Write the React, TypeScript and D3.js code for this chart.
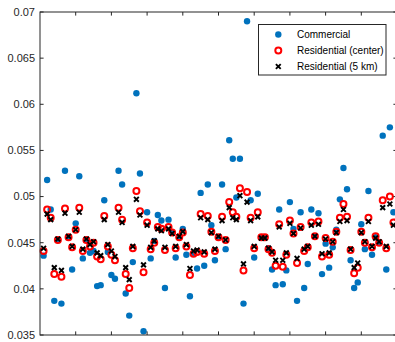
import React from "react";
import * as d3 from "d3";

const commercial = [
  0.0436, 0.0518, 0.0486, 0.0387, 0.0453, 0.0384, 0.0528, 0.0456, 0.0421, 0.0471,
  0.0522, 0.0433, 0.0453, 0.0439, 0.0441, 0.0403, 0.0404, 0.0496, 0.0440, 0.0415,
  0.0411, 0.0528, 0.0513, 0.0395, 0.0371, 0.0429, 0.0612, 0.0525, 0.0354, 0.0483,
  0.0433, 0.0452, 0.0480, 0.0474, 0.0401, 0.0475, 0.0461, 0.0434, 0.0456, 0.0465,
  0.0437, 0.0392, 0.0438, 0.0422, 0.0504, 0.0425, 0.0513, 0.0469, 0.0431, 0.0456,
  0.0513, 0.0443, 0.0561, 0.0541, 0.0499, 0.0541, 0.0384, 0.0690, 0.0496, 0.0434,
  0.0503, 0.0456, 0.0456, 0.0444, 0.0421, 0.0404, 0.0486, 0.0405, 0.0420, 0.0494,
  0.0465, 0.0387, 0.0483, 0.0401, 0.0427, 0.0486, 0.0457, 0.0482, 0.0416, 0.0449,
  0.0423, 0.0445, 0.0464, 0.0497, 0.0531, 0.0508, 0.0431, 0.0401, 0.0407, 0.0470,
  0.0443, 0.0506, 0.0437, 0.0456, 0.0450, 0.0566, 0.0421, 0.0575, 0.0483,
];

const residentialCenter = [
  0.0441, 0.0486, 0.0477, 0.0416, 0.0453, 0.0413, 0.0487, 0.0456, 0.0445, 0.0464,
  0.0488, 0.0441, 0.0453, 0.0446, 0.0450, 0.0435, 0.0432, 0.0479, 0.0446, 0.0437,
  0.0431, 0.0488, 0.0475, 0.0416, 0.0401, 0.0444, 0.0506, 0.0484, 0.0418, 0.0472,
  0.0443, 0.0450, 0.0467, 0.0465, 0.0442, 0.0467, 0.0461, 0.0444, 0.0456, 0.0461,
  0.0446, 0.0415, 0.0438, 0.0440, 0.0481, 0.0438, 0.0479, 0.0462, 0.0441, 0.0456,
  0.0478, 0.0453, 0.0494, 0.0483, 0.0478, 0.0509, 0.0420, 0.0505, 0.0477, 0.0444,
  0.0483, 0.0456, 0.0456, 0.0443, 0.0439, 0.0425, 0.0470, 0.0424, 0.0437, 0.0474,
  0.0460, 0.0428, 0.0467, 0.0441, 0.0445, 0.0472, 0.0457, 0.0473, 0.0435, 0.0455,
  0.0437, 0.0451, 0.0462, 0.0477, 0.0492, 0.0478, 0.0442, 0.0417, 0.0423, 0.0462,
  0.0450, 0.0477, 0.0445, 0.0457, 0.0450, 0.0496, 0.0444, 0.0500, 0.0472,
];

const residential5km = [
  0.0444, 0.0481, 0.0475, 0.0423, 0.0454, 0.0420, 0.0482, 0.0457, 0.0446, 0.0464,
  0.0483, 0.0443, 0.0454, 0.0448, 0.0451, 0.0439, 0.0436, 0.0475, 0.0448, 0.0441,
  0.0435, 0.0483, 0.0472, 0.0423, 0.0410, 0.0446, 0.0497, 0.0480, 0.0426, 0.0469,
  0.0445, 0.0452, 0.0465, 0.0463, 0.0445, 0.0465, 0.0460, 0.0446, 0.0457, 0.0462,
  0.0448, 0.0422, 0.0441, 0.0442, 0.0477, 0.0440, 0.0475, 0.0461, 0.0443, 0.0457,
  0.0474, 0.0453, 0.0488, 0.0477, 0.0475, 0.0501, 0.0427, 0.0494, 0.0474, 0.0446,
  0.0478, 0.0455, 0.0455, 0.0444, 0.0440, 0.0431, 0.0467, 0.0431, 0.0439, 0.0471,
  0.0460, 0.0433, 0.0466, 0.0443, 0.0446, 0.0469, 0.0457, 0.0470, 0.0438, 0.0454,
  0.0439, 0.0451, 0.0461, 0.0473, 0.0486, 0.0474, 0.0443, 0.0423, 0.0428, 0.0461,
  0.0451, 0.0473, 0.0446, 0.0455, 0.0451, 0.0488, 0.0446, 0.0492, 0.0469,
];

const yTicks = [0.035, 0.04, 0.045, 0.05, 0.055, 0.06, 0.065, 0.07];
const yTickLabels = ["0.035", "0.04", "0.045", "0.05", "0.055", "0.06", "0.065", "0.07"];
const xTicks = [10, 20, 30, 40, 50, 60, 70, 80, 90];
const legendLabels = ["Commercial", "Residential (center)", "Residential (5 km)"];

const W = 395;
const H = 342;
const left = 40;
const right = 397;
const top = 12;
const bottom = 335;
const axisColor = "#262626";
const blue = "#0072BD";
const red = "#FF0000";
const font = "'Liberation Sans', Arial, Helvetica, sans-serif";

export default function App() {
  const x = d3.scaleLinear().domain([0, 100]).range([left, right]);
  const y = d3.scaleLinear().domain([0.035, 0.07]).range([bottom, top]);
  const idx = (i: number) => i + 1;
  const tl = 3.6;
  const xs = 2.4;
  const rr = 3.0;
  const rw = 2.0;
  const br = 3.2;
  const kw = 1.9;

  return (
    <svg
      width={W}
      height={H}
      style={{ position: "absolute", left: 0, top: 0, background: "#fff" }}
      viewBox={`0 0 ${W} ${H}`}
    >
      <rect x={0} y={0} width={W} height={H} fill="#fff" />
      <g>
        {commercial.map((v, i) => (
          <circle key={"c" + i} cx={x(idx(i))} cy={y(v)} r={br} fill={blue} />
        ))}
      </g>
      <g>
        {residentialCenter.map((v, i) => (
          <circle
            key={"r" + i}
            cx={x(idx(i))}
            cy={y(v)}
            r={rr}
            fill="none"
            stroke={red}
            strokeWidth={rw}
          />
        ))}
      </g>
      <g stroke="#000" strokeWidth={kw}>
        {residential5km.map((v, i) => {
          const cx = x(idx(i));
          const cy = y(v);
          return (
            <path
              key={"k" + i}
              d={`M${cx - xs},${cy - xs}L${cx + xs},${cy + xs}M${cx - xs},${cy + xs}L${cx + xs},${cy - xs}`}
            />
          );
        })}
      </g>
      <g stroke={axisColor} strokeWidth={1} fill="none">
        <rect x={left} y={top} width={right - left} height={bottom - top} />
        {xTicks.map((t) => (
          <g key={"xt" + t}>
            <line x1={x(t)} x2={x(t)} y1={bottom} y2={bottom - tl} />
            <line x1={x(t)} x2={x(t)} y1={top} y2={top + tl} />
          </g>
        ))}
        {yTicks.map((t) => (
          <g key={"yt" + t}>
            <line x1={left} x2={left + tl} y1={y(t)} y2={y(t)} />
            <line x1={right} x2={right - tl} y1={y(t)} y2={y(t)} />
          </g>
        ))}
      </g>
      <g fontFamily={font} fontSize={11} fill={axisColor} textAnchor="end">
        {yTicks.map((t, i) => (
          <text key={"yl" + t} x={left - 5} y={y(t)} dy="0.35em">
            {yTickLabels[i]}
          </text>
        ))}
      </g>
      <g>
        <rect x={258.5} y={24.5} width={127.5} height={50.5} fill="#fff" stroke={axisColor} strokeWidth={1} />
        <circle cx={278.3} cy={34.5} r={br} fill={blue} />
        <circle cx={278.3} cy={50.5} r={rr} fill="none" stroke={red} strokeWidth={rw} />
        <path
          d={`M${278.3 - xs},${66.5 - xs}L${278.3 + xs},${66.5 + xs}M${278.3 - xs},${66.5 + xs}L${278.3 + xs},${66.5 - xs}`}
          stroke="#000"
          strokeWidth={kw}
        />
        <g fontFamily={font} fontSize={10} fill="#000">
          {legendLabels.map((l, i) => (
            <text key={l} x={297} y={34.5 + 16 * i} dy="0.35em">
              {l}
            </text>
          ))}
        </g>
      </g>
    </svg>
  );
}
